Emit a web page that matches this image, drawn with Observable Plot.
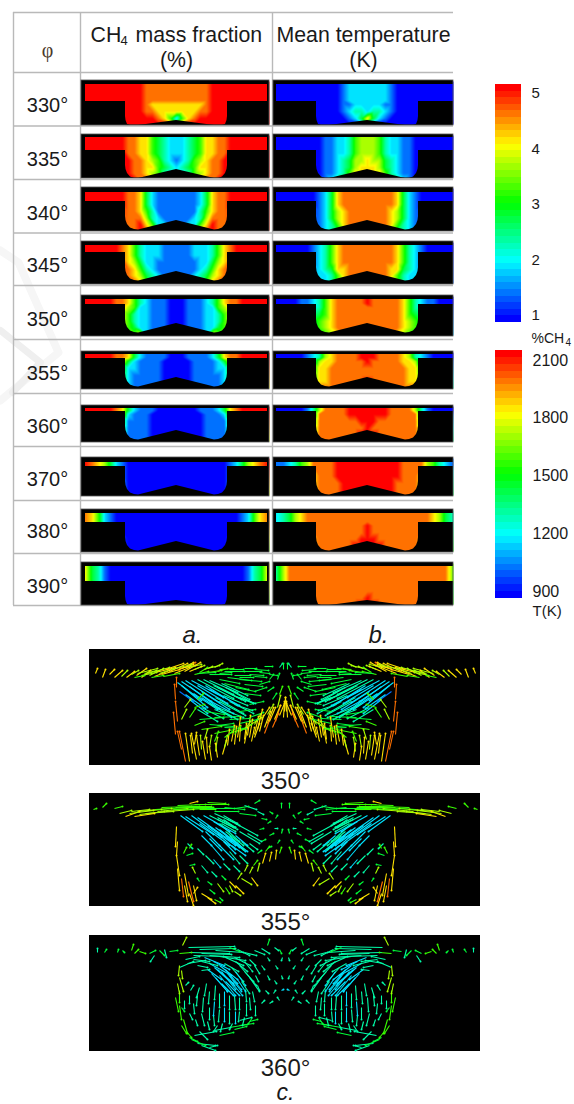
<!DOCTYPE html>
<html><head><meta charset="utf-8">
<script src="https://cdn.jsdelivr.net/npm/d3@7"></script>
<script src="https://cdn.jsdelivr.net/npm/@observablehq/plot@0.6"></script>
<style>html,body{margin:0;padding:0;background:#fff}svg{display:block}</style>
</head><body><div id="chart"></div>
<script>
// ---- data ----
const angles=[330,335,340,345,350,355,360,370,380,390];
const ch4Ticks=["1","2","3","4","5"];
const tempTicks=["900","1200","1500","1800","2100"];
// level digits 0..9 (blue..red). first string: gap, 16 columns edge -> axis. others: bowl at increasing depth, 9 columns wall -> axis
const ch4Levels=[
["9999999999888888","999877777","999887777","999998752","999999986","999999999"],
["9999999887754322","887754322","988765321","988775432","988765322","998876533"],
["9999999887421111","887421111","887531111","888632111","889752211","889874321"],
["9999998753222111","753222111","764221111","875321111","876432111","887532111"],
["9999988753211100","652211100","532211100","532211100","542211100","456211100"],
["9999988742111100","421111000","221111000","211111000","211111000","211111000"],
["9999987421110000","211100000","111100000","111100000","111100000","111100000"],
["9876421000000000","000000000","000000000","000000000","000000000","000000000"],
["8752100000000000","000000000","000000000","000000000","000000000","000000000"],
["7431000000000000","000000000","000000000","000000000","000000000","000000000"]];
const tempLevels=[
["0000000000012222","000011222","000012332","000001247","000000012","000000000"],
["0000000011223566","011223566","011234667","011234677","011235777","112356777"],
["0000000124788888","124788888","124678888","124678888","123578888","123467888"],
["0000001235788888","235788888","235788888","234778888","223578888","223577888"],
["0000112357888889","357888888","457888888","567888888","567888888","456788888"],
["0000012367888899","677888889","778888888","778888888","778888889","788888888"],
["0000013688889999","888889999","888888899","888888889","888888899","888888889"],
["1123568888999999","888999999","888999999","888899999","888899999","888899999"],
["2346788888888888","888888889","888888889","888888899","888888999","888888889"],
["3688888888888888","888888888","888888888","888888889","888888899","888888899"]];
const vectorLabels=["350°","355°","360°"];
// velocity arrows, left half of the chamber (the right half is its mirror image): x,y,dx,dy,level
const vec350=[[6,24,2,-5,7],[13,28,3,-8,7],[20,25,5,-5,7],[25,28,8,-7,7],[32,27,6,-6,6],[37,28,8,-6,7],[42,25,7,-4,6],[47,26,10,-7,7],[52,28,9,-7,7],[55,24,12,-3,6],[60,26,14,-7,6],[65,27,15,-6,7],[70,24,14,-5,6],[72,25,18,-5,7],[80,22,18,-8,7],[85,24,15,-6,7],[88,21,18,-8,8],[92,19,12,-4,7],[95,22,16,-9,7],[100,22,12,-5,7],[98,16,6,-3,7],[105,20,10,-4,6],[110,23,8,-5,5],[105,25,14,-3,5],[115,20,8,-3,6],[118,23,14,-2,5],[125,18,8,-4,6],[128,22,10,-3,5],[130,24,12,-1,4],[140,20,14,0,4],[145,26,16,0,4],[155,19,12,0,4],[160,25,14,1,4],[170,23,10,1,4],[175,17,8,0,4],[180,25,8,1,4],[190,18,3,-4,3],
[48,24,20,-5,6],[58,24,22,-6,6],[66,23,20,-5,7],[76,20,18,-6,7],[82,20,20,-5,6],[90,19,16,-3,7],[98,18,14,-3,6],[52,26,15,-3,6],[62,28,12,-2,5],[74,27,16,-3,5],[45,28,10,-2,5],[118,19,12,-3,6],[130,20,14,-1,5],[108,24,18,-1,4],[120,25,22,0,4],[135,22,20,0,4],[150,22,22,0,4],[165,20,14,1,4],[150,28,14,0,4],[165,27,12,1,4],
[88,33,24,18,2],[92,32,30,20,2],[96,31,34,22,2],[102,31,32,17,2],[108,30,36,19,3],[114,30,30,15,3],[120,31,28,12,3],[90,42,14,10,1],[96,45,20,14,2],[104,44,24,16,2],[112,42,28,18,2],[120,40,30,16,2],[128,38,28,14,3],[136,38,24,12,3],[118,50,26,14,2],[126,48,28,16,3],[134,46,24,10,3],[142,45,22,9,3],[140,52,24,12,3],[128,58,26,10,3],[112,58,22,11,3],[146,38,20,4,4],[150,30,22,2,4],[130,30,20,4,4],[138,28,24,3,4],
[92,36,26,22,2],[100,37,30,22,2],[108,36,30,18,2],[116,36,32,20,2],[124,36,28,14,3],[132,34,26,12,3],[112,48,30,20,2],[120,54,28,16,3],[130,52,26,14,3],[140,40,24,14,3],[100,50,18,14,2],[108,60,20,12,3],[125,60,20,8,3],[145,55,18,6,3],[150,48,16,6,3],[135,34,24,6,4],[155,35,18,2,4],[155,44,16,2,4],
[110,70,24,-2,4],[115,62,20,3,4],[125,68,26,-1,4],[140,70,20,-1,4],[120,75,24,2,4],[135,78,22,1,4],[150,74,18,-4,4],[150,62,16,-2,4],[160,55,14,-3,4],[165,42,12,-4,4],[170,35,10,-3,4],[160,68,14,-5,4],[105,58,10,-3,5],[95,58,6,-8,6],[100,68,6,-9,5],[92,70,5,-10,6],[108,50,6,-6,5],
[112,80,20,-3,5],[125,84,20,-4,5],[140,84,15,-5,5],[150,82,12,-7,5],[160,76,12,-8,6],[105,76,10,-4,5],[128,76,16,-2,4],
[190,45,3,-8,5],[183,50,4,-6,4],[178,42,6,-4,4],[188,30,2,-6,4],[180,30,4,-5,4],[194,20,0,-6,4],
[88,72,-2,-20,8],[86,50,-1,-15,8],[87,38,0,-10,8],[86,85,-2,-22,8],[96,112,-6,-30,8],[100,112,-4,-28,7],[107,110,-5,-26,7],[92,100,-4,-18,8],[116,110,-3,-18,7],[122,111,-2,-14,7],[128,108,-2,-14,7],[133,105,4,-14,7],[112,100,-1,-14,6],[120,98,2,-12,6],[135,98,3,-12,6],[125,92,4,-10,5],[115,90,3,-10,6],[105,95,2,-12,7],
[110,106,-3,-20,7],[103,104,-2,-18,7],[118,104,-1,-16,7],[126,102,2,-14,6],[138,96,2,-16,7],[142,92,3,-16,7],[148,88,3,-20,7],[158,86,3,-20,7],[168,80,5,-20,7],[178,74,6,-16,7],[186,72,5,-16,8],[194,68,1,-16,7],[165,88,5,-14,7],[175,84,6,-16,8],[183,78,6,-14,8],[155,94,3,-16,7],[162,92,3,-14,7],
[145,95,2,-18,7],[150,92,1,-16,7],[155,90,2,-16,7],[160,88,3,-18,7],[165,85,4,-18,7],[170,82,4,-16,7],[175,78,6,-16,7],[180,72,6,-14,7],[185,70,6,-14,7],[190,66,5,-12,7],[195,62,1,-14,7],[172,70,8,-12,7],[165,75,6,-10,6],[155,80,6,-8,6],[145,85,6,-8,5],[135,88,8,-6,5],[178,65,6,-10,6],[188,58,3,-12,6]];
const vec355=[[4,16,3,-1,5],[13,14,4,-4,5],[25,15,8,-2,5],[30,20,12,-3,6],[36,23,14,-5,7],[42,18,18,-2,6],[50,21,25,-3,6],[58,17,24,-2,6],[68,18,30,-3,6],[72,14,30,-1,5],[84,16,32,-1,5],[88,12,28,-1,5],[98,14,26,0,5],[100,10,8,-2,7],[105,11,34,0,5],[115,15,30,0,4],[118,9,18,1,5],[125,18,24,0,4],[135,14,20,2,4],[145,15,14,-2,4],[150,20,16,2,4],[155,12,12,4,3],[165,10,5,-3,4],[168,18,6,3,3],
[40,20,24,-3,6],[48,18,24,-2,6],[56,20,28,-2,6],[66,16,32,-2,5],[76,18,28,-2,6],[86,14,24,-1,5],[94,16,22,-1,5],[102,13,20,0,5],[45,23,20,-3,7],[110,16,16,0,5],
[91,22,22,16,2],[96,23,28,18,2],[102,22,30,22,2],[108,24,34,24,2],[114,22,32,18,2],[120,22,28,14,3],[125,20,22,10,3],[128,24,18,10,3],[134,22,14,8,3],[110,30,30,22,2],[118,32,28,20,2],[126,34,24,18,2],[130,30,20,18,3],[136,38,18,14,3],[140,42,14,14,3],[144,46,10,10,3],[146,30,22,12,3],[150,38,20,12,3],[158,40,14,8,3],[152,48,12,10,3],[160,50,8,6,3],[112,42,10,10,2],[120,45,12,12,2],[130,52,14,14,2],[140,58,10,12,3],[150,62,8,8,3],
[128,26,16,8,3],[134,26,12,8,3],[132,30,14,8,3],[138,26,12,6,3],[124,28,16,10,2],[130,36,18,14,2],[136,42,14,12,2],[140,46,16,12,2],[146,42,12,10,2],[128,40,18,16,2],[134,48,12,12,2],[142,52,14,10,2],[148,50,10,8,2],[116,38,14,14,2],[122,52,12,14,2],
[98,50,5,5,3],[108,55,6,6,3],[116,62,8,8,3],[124,66,7,8,2],[134,70,6,6,3],[144,72,6,6,3],[112,72,6,7,3],[122,78,5,5,3],[132,82,4,4,4],[118,88,4,3,4],[100,72,5,-1,4],[97,62,6,-2,4],[110,88,-2,-3,4],
[146,92,8,8,7],[140,88,6,6,7],[152,85,10,6,6],[160,80,3,-6,6],[168,78,2,-8,6],[173,70,3,-10,7],[180,68,2,-9,7],[186,66,1,-9,7],[176,58,4,-5,5],[164,72,4,-5,5],[190,60,2,-6,5],
[148,86,4,-6,6],[155,78,3,-6,6],[162,84,6,8,7],[145,98,6,4,6],[136,94,4,6,5],[120,96,5,4,4],[104,100,4,-6,7],[95,92,3,16,7],[92,85,2,18,8],[100,100,4,12,7],
[178,30,3,-2,4],[186,25,2,-3,4],[192,40,1,-4,4],[180,42,4,-2,4],[188,50,2,-3,4],[172,48,4,-2,4],[170,36,4,-1,4],[178,55,4,-2,4],[168,60,4,-3,4],[192,15,0,-5,4],[180,18,3,2,4],[172,25,5,1,4],[185,35,3,0,3],
[87,33,-1,20,7],[88,48,-1,14,7],[87,62,3,20,7],[88,75,2,22,7],[95,80,4,22,7],[99,88,5,20,8],[104,92,3,15,7],[94,60,3,-6,5],[100,55,2,-4,5],[106,80,-3,-6,6],[112,100,10,6,7],[118,104,8,6,7],[125,106,6,3,5],[130,104,3,3,4],[128,90,6,8,6],[140,92,3,6,6]];
const vec360=[[8,17,0,-4,3],[15,17,2,-3,4],[28,17,1,-3,4],[33,15,2,2,4],[42,15,2,-6,5],[45,18,4,-4,5],[50,16,6,2,5],[60,18,6,-3,4],[65,20,-4,6,3],[70,15,5,5,4],[75,14,2,8,3],[80,16,8,-1,4],[90,18,12,-1,5],[93,10,4,-8,6],
[99,12,46,-1,3],[100,17,40,1,3],[110,14,36,-1,3],[120,20,30,2,3],[126,15,28,2,3],[130,21,26,4,3],[140,12,10,4,4],[148,14,12,6,3],[155,17,12,3,3],[165,15,10,4,3],[172,13,8,5,3],[178,10,2,-6,4],[185,12,4,3,3],[190,14,2,4,4],
[104,20,30,1,3],[112,18,30,1,3],[96,24,14,-3,3],[160,24,6,6,3],[155,26,8,10,3],[165,30,5,8,3],
[115,22,20,8,2],[120,28,22,12,2],[125,32,20,18,2],[130,30,18,14,2],[135,28,14,8,3],[122,38,16,18,2],[130,40,16,20,2],[138,38,14,18,2],[142,32,12,14,3],[146,26,12,10,3],[150,30,14,16,3],[155,36,12,14,3],[160,42,10,14,3],[136,46,14,14,2],[143,48,10,12,2],[90,32,14,-6,3],[98,28,18,-3,3],[108,30,10,2,3],
[128,34,16,14,2],[132,36,14,18,2],[136,34,12,14,2],[140,40,12,14,2],[146,36,10,14,2],[126,42,12,14,2],[132,48,12,12,2],[148,44,8,12,2],[152,46,8,12,3],[118,34,14,10,2],[124,26,16,8,2],[136,22,18,8,3],[145,22,16,8,3],[112,26,16,4,3],[104,24,16,2,3],
[117,48,-2,12,3],[114,62,-1,14,3],[112,78,3,12,3],[126,50,-1,14,3],[125,66,-1,14,2],[124,80,1,10,3],[135,56,0,14,2],[135,72,0,14,2],[133,88,-2,8,3],[145,60,1,14,3],[146,76,0,12,2],[143,88,-3,6,3],[156,54,1,12,3],[157,68,0,12,3],[155,82,-2,8,3],[163,56,2,10,3],[166,70,0,10,3],[163,82,-4,6,4],[110,52,-3,10,3],[104,68,1,10,3],[106,84,2,6,3],[96,50,3,-3,3],[101,55,3,-5,3],[95,65,0,8,3],[100,78,3,6,3],[92,72,3,4,4],[112,35,8,-1,3],
[120,56,-1,12,3],[120,72,0,12,3],[130,58,0,14,3],[130,74,-1,12,3],[140,60,0,14,3],[140,76,0,12,3],[150,62,0,12,3],[150,76,-1,10,3],[160,62,1,12,3],[108,60,-1,10,3],[100,60,0,8,3],[118,86,2,8,3],[128,90,-4,6,3],[110,96,8,8,3],[108,108,18,2,3],[130,100,14,-3,4],[150,85,12,-3,3],[145,94,12,-3,4],
[90,30,-1,10,6],[90,42,4,14,6],[90,55,0,12,5],[90,70,2,14,5],[94,84,4,14,5],[97,96,5,6,5],[102,104,14,6,4],[112,110,14,5,3],[120,112,8,-2,3],[105,100,22,-4,3],[125,95,16,-3,3],[140,92,18,-3,4],[150,90,14,-2,4],[160,86,8,-2,4],
[92,35,1,8,6],[88,48,2,10,6],[86,62,3,14,5],[92,90,5,8,5],[100,102,8,4,4],
[172,30,3,4,3],[178,40,2,4,3],[186,30,2,3,3],[192,40,1,3,3],[176,55,3,3,3],[184,58,2,-3,3],[190,65,-2,-3,3],[172,68,3,-3,3],[180,68,3,-2,3],[192,55,2,-1,2],[168,50,2,5,3],[166,40,3,6,3],[185,45,2,3,3],[193,22,-1,3,3],[178,22,2,3,3]];

// ---- chamber geometry (offsets from the axis and depth below the gap) ----
const gapColumns=[-92,-84,-78,-72,-66,-60,-54,-48,-42,-36,-30,-24,-18,-12,-6,0];
const bowlDepths=[3,10,17,23,29];
const bowlProfile=[[-51,15],[-50.5,19],[-49,23],[-46,26.5],[-42,28],[-38,28.5],[0,19],[38,28.5],[42,28],[46,26.5],[49,23],[50.5,19],[51,15]];
// ---- layout ----
const W=574,H=1104;
const panelTop=[80,134,187,241,295,351,405,457,509,562];
const panelBottom=[125,178,231,284,336,389,442,496,552,605];
const gapTop=[84,137,192,245,299,354,408,462,513,566];
const gapBottom=[101,150,201,252,304,358,411,466,522,581];
const rowLines=[72,125.5,179,232.5,285,339,393,446,500,553];
const labelBase=[111,165,219,271,325,379,432,485,537,592];
const cols=[{x1:81,x2:269,c:176,levels:ch4Levels},{x1:273,x2:453,c:367,levels:tempLevels}];
const ink="#1a1a1a",sans="Liberation Sans, Arial, sans-serif";

const rasters=[],masks=[],borders=[],floors=[];
cols.forEach((col,ci)=>angles.forEach((a,r)=>{
  const t=panelTop[r],b=panelBottom[r],gt=gapTop[r],gb=gapBottom[r],L=col.levels[r],c=col.c;
  const pts=[],add=(u,y,d)=>{pts.push({x:c+u,y,t:+d/9});if(u)pts.push({x:c-u,y,t:+d/9});};
  gapColumns.forEach((u,i)=>{add(u,t,L[0][i]);add(u,gt+1,L[0][i]);add(u,gb-1,L[0][i]);});
  bowlDepths.forEach((d,k)=>[...L[k+1]].forEach((v,i)=>add(gapColumns[i+7],gb+d,v)));
  rasters.push(Plot.raster(pts,{x:"x",y:"y",fill:"t",x1:col.x1+1,x2:col.x2,y1:t+1,y2:b-1,interpolate:"barycentric"}));
  const R=col.x2;
  masks.push({x1:col.x1,x2:R,y1:t,y2:gt},{x1:col.x1,x2:c-91,y1:t,y2:b},{x1:Math.min(c+91,R),x2:R,y1:t,y2:b},
             {x1:c-91,x2:c-51,y1:gb,y2:b},{x1:c+51,x2:Math.min(c+91,R),y1:gb,y2:b});
  borders.push({x1:col.x1,x2:R,y1:t,y2:b});
  bowlProfile.forEach(([u,d])=>floors.push({id:ci+"-"+r,x:c+u,top:Math.min(gb+d,b),bot:b}));
}));

const jetDomain=[0,.25,.5,.75,1],jet=["#0000ff","#00ffff","#00ff00","#ffff00","#ff0000"];
const bands=(n,x1,x2,top,bot)=>d3.range(n).map(i=>({x1,x2,y1:bot-(bot-top)*(i+1)/n,y2:bot-(bot-top)*i/n,t:i/(n-1)}));
const vecPanels=[{top:649,bot:765,d:vec350,lab:788},{top:793,bot:906,d:vec355,lab:929},{top:935,bot:1051,d:vec360,lab:1075}];
const arrows=vecPanels.flatMap(p=>p.d.flatMap(([x,y,dx,dy,l])=>[
  {x1:89+x,y1:p.top+y,x2:89+x+dx,y2:p.top+y+dy,t:l/9},
  {x1:89+392-x,y1:p.top+y,x2:89+392-x-dx,y2:p.top+y+dy,t:l/9}]));
const tableH=[12,...rowLines,605].map(y=>({y}));
const T=(data,o)=>Plot.text(data,{lineAnchor:"bottom",fontFamily:sans,fill:ink,...o});
const headSize=21.3;

const chart=Plot.plot({width:W,height:H,margin:0,style:{background:"#fff"},
  x:{domain:[0,W],range:[0,W],axis:null},y:{domain:[0,H],range:[0,H],axis:null},
  color:{type:"linear",domain:jetDomain,range:jet},
  marks:[
    // faint watermark
    Plot.line([{x:0,y:250},{x:18,y:262},{x:58,y:352},{x:0,y:400}],{x:"x",y:"y",stroke:"#f6f6f6",strokeWidth:8}),
    Plot.line([{x:0,y:330},{x:40,y:362},{x:12,y:392}],{x:"x",y:"y",stroke:"#efefef",strokeWidth:7}),
    // table rules
    Plot.ruleY(tableH,{y:"y",x1:13,x2:453,stroke:"#b9b9b9",strokeWidth:1.4}),
    Plot.ruleX([13,80,272],{x:d=>d,y1:12,y2:605,stroke:"#b9b9b9",strokeWidth:1.4}),
    // field panels
    Plot.rect(borders,{x1:"x1",x2:"x2",y1:"y1",y2:"y2",fill:"#000"}),
    ...rasters,
    Plot.rect(masks,{x1:"x1",x2:"x2",y1:"y1",y2:"y2",fill:"#000"}),
    Plot.area(floors,{x1:"x",y1:"top",y2:"bot",z:"id",fill:"#000"}),
    Plot.rect(borders,{x1:"x1",x2:"x2",y1:"y1",y2:"y2",stroke:"#555",strokeWidth:.8,fill:"none"}),
    // table text
    T(angles,{text:d=>d+"°",x:47,y:(d,i)=>labelBase[i],fontSize:20,textAnchor:"middle"}),
    T(["φ"],{x:47,y:56,fontSize:20,fontFamily:"Liberation Serif, serif",textAnchor:"middle",fill:"#4a3a2a"}),
    T(["CH"],{x:90,y:41,fontSize:headSize,textAnchor:"start"}),
    T(["4"],{x:120,y:44,fontSize:13,textAnchor:"start"}),
    T(["mass fraction"],{x:135,y:41,fontSize:headSize,textAnchor:"start"}),
    T(["(%)"],{x:176,y:66,fontSize:headSize,textAnchor:"middle"}),
    T(["Mean temperature"],{x:363,y:41,fontSize:headSize,textAnchor:"middle"}),
    T(["(K)"],{x:363,y:66,fontSize:headSize,textAnchor:"middle"}),
    T(["a."],{x:192,y:642,fontSize:24,fontStyle:"italic",textAnchor:"middle"}),
    T(["b."],{x:378,y:642,fontSize:24,fontStyle:"italic",textAnchor:"middle"}),
    // colour bars
    Plot.rect(bands(36,495,521,84,322),{x1:"x1",x2:"x2",y1:"y1",y2:"y2",fill:"t",shapeRendering:"crispEdges"}),
    Plot.rect(bands(36,495,522,350,598),{x1:"x1",x2:"x2",y1:"y1",y2:"y2",fill:"t",shapeRendering:"crispEdges"}),
    Plot.text(ch4Ticks,{text:d=>d,x:531,y:d=>315-(+d-1)*55.5,fontSize:15,fontFamily:sans,fill:ink,textAnchor:"start"}),
    Plot.text(tempTicks,{text:d=>d,x:532,y:d=>591-(+d-900)*.1925,fontSize:16,fontFamily:sans,fill:ink,textAnchor:"start"}),
    T(["%CH"],{x:531,y:342,fontSize:14,textAnchor:"start"}),
    T(["4"],{x:565,y:345,fontSize:10,textAnchor:"start"}),
    T(["T(K)"],{x:532,y:615,fontSize:15,textAnchor:"start"}),
    // velocity fields
    Plot.rect(vecPanels,{x1:89,x2:480,y1:"top",y2:"bot",fill:"#000"}),
    Plot.link(arrows,{x1:"x1",y1:"y1",x2:"x2",y2:"y2",stroke:"t",strokeWidth:1.1}),
    Plot.dot(arrows,{x:"x2",y:"y2",fill:"t",r:1}),
    T(vectorLabels,{x:285,y:(d,i)=>vecPanels[i].lab,fontSize:24,textAnchor:"middle"}),
    T(["c."],{x:285,y:1099,fontSize:23,fontStyle:"italic",textAnchor:"middle"})
  ]});
document.getElementById("chart").append(chart);
</script></body></html>
